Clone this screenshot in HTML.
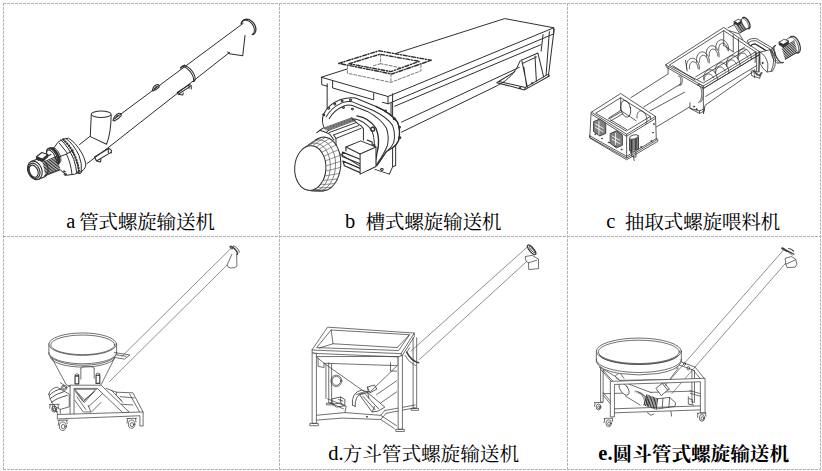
<!DOCTYPE html>
<html lang="zh"><head><meta charset="utf-8"><title>螺旋输送机</title>
<style>
html,body{margin:0;padding:0;background:#fff}
body{width:822px;height:471px;overflow:hidden;font-family:"Liberation Serif",serif}
svg{display:block}
.lt{font-family:"Liberation Serif",serif;font-size:20.5px;fill:#000}
.ltb{font-family:"Liberation Serif",serif;font-size:20.5px;font-weight:bold;fill:#000}
.cj{font-family:"Liberation Serif","Noto Serif CJK SC",serif;font-size:19.7px;fill:#000}
.cjb{font-family:"Liberation Serif","Noto Serif CJK SC",serif;font-size:19.7px;font-weight:bold;fill:#000}
.ln{fill:none;stroke:#333;stroke-width:0.8;stroke-linecap:round;stroke-linejoin:round}
</style></head><body>
<svg width="822" height="471" viewBox="0 0 822 471">
<g stroke="#b2b2b2" stroke-width="1" stroke-dasharray="3 1" fill="none" shape-rendering="crispEdges"><path d="M3.5 3V470"/><path d="M279.5 3V470"/><path d="M567.5 3V470"/><path d="M820.5 3V470"/><path d="M3 3.5H821"/><path d="M3 236.5H821"/><path d="M3 469.5H821"/></g>
<g id="draw_a"><g transform="translate(0 0) scale(1.000000)" fill="none" stroke="#2e2e2e" stroke-width="1.000" stroke-linecap="round" stroke-linejoin="round"><path d="M112.9 120 L243.2 23.3"/><path d="M108.5 147.4 L229.6 52.4"/><path d="M79.5 144.6 L89.6 136.6"/><path d="M87 163.6 L108.5 147.4"/><path d="M94.5 157 L109 148.3 L111.3 150.2 L111.3 153 M96.5 161 L110.5 152.6 M94.5 157 L96.5 161 L100.5 162 L101 159.5 M108.3 149 L108.3 152.5" stroke-width="1.1"/></g><g transform="translate(44 134) scale(0.093385)" fill="none" stroke="#2e2e2e" stroke-width="10.708" stroke-linecap="round" stroke-linejoin="round"><path d="M112 140 L150 88 Q200 45 262 45 Q340 90 405 205 Q455 300 445 350 Q430 385 405 398 L330 430 L240 442 L212 420 Q170 385 140 330 Z" fill="#fff"/><path d="M235 48 Q320 110 375 230 Q410 320 400 398"/><path d="M200 55 Q290 130 340 260 Q370 340 375 405" stroke-width="22" stroke-dasharray="20 9" stroke-linecap="butt"/><path d="M200 55 Q290 130 340 260 Q370 340 375 405" stroke-width="10"/><path d="M180 62 Q265 140 318 270 Q345 350 350 415"/><path d="M150 250 L240 215 L315 175 M240 215 Q285 300 300 432"/><path d="M165 100 L250 205"/><ellipse cx="228" cy="432" rx="12" ry="12"/><ellipse cx="215" cy="402" rx="9" ry="9"/><path d="M360 405 L365 425 L395 420 L405 398"/><ellipse cx="88" cy="245" rx="48" ry="100" transform="rotate(-27 88 245)" fill="#fff"/><path d="M58.4 157.3 L63.9 154.2 L70.2 152.7 L77.2 152.8 L84.7 154.6 L92.5 157.9 L100.6 162.8 L108.7 169.1 L116.7 176.7 L124.5 185.5 L131.9 195.3 L138.8 205.9 L145.0 217.1 L150.4 228.7 L155.0 240.5 L158.5 252.3 L161.0 263.7 L162.5 274.7 L162.8 285.0 L162.0 294.4 L160.1 302.7 L157.2 309.8 L153.2 315.5 L148.3 319.7 L142.5 322.4" stroke-width="22"/><path d="M87.5 144.8 L93.5 144.6 L99.9 145.7 L106.5 148.1 L113.5 151.5 L120.5 156.2 L127.5 161.8 L134.5 168.5 L141.3 176.1 L147.8 184.4 L154.0 193.4 L159.6 202.9 L164.8 212.8 L169.3 222.9 L173.2 233.1 L176.3 243.3 L178.6 253.3 L180.1 263.0 L180.8 272.2 L180.6 280.8 L179.6 288.7 L177.8 295.7 L175.2 301.8 L171.8 306.8 L167.6 310.7"/><ellipse cx="80" cy="250" rx="40" ry="86" transform="rotate(-27 80 250)"/></g><g transform="translate(24 128) scale(0.114650)" fill="none" stroke="#2e2e2e" stroke-width="8.722" stroke-linecap="round" stroke-linejoin="round"><g transform="translate(95 370) scale(1.1) translate(-95 -370)"><path d="M117 292 L225 242 L300 362 L172 412 Z" fill="#fff" stroke="none"/><path d="M117 292 L222 244 M172 412 L292 366"/><path d="M158.0 306.0L268.0 258.0M160.4 316.7L270.7 269.1M162.9 327.3L273.3 280.2M165.3 338.0L276.0 291.3M167.8 348.7L278.7 302.4M170.2 359.3L281.3 313.6M172.7 370.0L284.0 324.7M175.1 380.7L286.7 335.8M177.6 391.3L289.3 346.9M180.0 402.0L292.0 358.0" stroke-width="7.5" stroke="#222"/><path d="M111.3 280.0 L118.2 277.8 L125.4 276.9 L132.9 277.1 L140.6 278.7 L148.3 281.4 L155.8 285.3 L163.1 290.4 L170.0 296.4 L176.4 303.4 L182.2 311.1 L187.3 319.6 L191.6 328.5 L195.1 337.8 L197.6 347.3 L199.1 356.9 L199.7 366.4 L199.2 375.5 L197.8 384.3 L195.4 392.4 L192.0 399.8 L187.8 406.4 L182.8 412.0 L177.0 416.6 L170.7 420.0"/><path d="M65 300 L112 281 L172 420 L125 440 Z" fill="#fff" stroke="none"/><path d="M65 300 L112 281 M125 440 L172 420"/><ellipse cx="95" cy="370" rx="55" ry="76" transform="rotate(-23 95 370)" fill="#fff"/><ellipse cx="89" cy="373" rx="43" ry="63" transform="rotate(-23 89 373)"/><ellipse cx="85" cy="376" rx="33" ry="50" transform="rotate(-23 85 376)"/><path d="M108 262 L108 278 L152 300 L197 262 L197 243 Z" fill="#333"/><path d="M108 262 L150 228 L197 243 L155 280 Z" fill="#fff"/></g></g><g transform="translate(76 92) scale(0.127389)" fill="none" stroke="#2e2e2e" stroke-width="7.850" stroke-linecap="round" stroke-linejoin="round"><path d="M120 175 L112 350 L240 410 Q275 320 276 178" fill="#fff"/><ellipse cx="198" cy="175" rx="78" ry="25" fill="#fff"/><path d="M292 222 Q300 180 335 168 Q360 165 355 185 Q330 215 300 228 Z M310 205 Q318 185 335 182" stroke-width="8"/></g><g transform="translate(140 52) scale(0.127389)" fill="none" stroke="#2e2e2e" stroke-width="7.850" stroke-linecap="round" stroke-linejoin="round"><path d="M330.8 114.6 L334.1 110.7 L338.3 108.1 L343.3 106.7 L349.1 106.5 L355.5 107.7 L362.4 110.1 L369.6 113.7 L377.1 118.4 L384.6 124.1 L392.0 130.8 L399.2 138.3 L406.0 146.4 L412.3 155.0 L417.9 163.8 L422.8 172.8 L426.8 181.8 L429.8 190.5 L431.9 198.8 L432.9 206.5 L432.9 213.5 L431.8 219.6 L429.6 224.7 L426.5 228.7 L422.4 231.6" stroke-width="8"/><path d="M318.8 122.6 L321.8 119.0 L325.6 116.4 L330.1 114.9 L335.3 114.5 L341.0 115.1 L347.2 116.8 L353.7 119.6 L360.5 123.3 L367.4 128.1 L374.3 133.6 L381.2 139.9 L387.7 146.9 L394.0 154.4 L399.8 162.3 L405.1 170.5 L409.7 178.8 L413.6 187.1 L416.8 195.2 L419.1 203.0 L420.5 210.4 L421.0 217.3 L420.6 223.5 L419.4 228.9 L417.2 233.4"/><path d="M320 130 Q330 108 350 102"/><path d="M292 318 L388 255 L402 262 L402 290 M300 332 L392 272 M292 318 L300 332 L335 338 L340 322 M385 262 L385 285" stroke-width="8"/><path d="M97 300 Q105 262 135 255 Q155 258 150 275 Q125 300 100 306 Z M112 290 Q120 270 135 268" stroke-width="8"/></g><g transform="translate(190 8) scale(0.127389)" fill="none" stroke="#2e2e2e" stroke-width="7.850" stroke-linecap="round" stroke-linejoin="round"><path d="M403.6 122.7 L405.9 114.0 L409.6 106.2 L414.7 99.6 L421.0 94.4 L428.3 90.6 L436.4 88.4 L445.2 87.9 L454.4 89.0 L463.8 91.8 L473.0 96.1 L481.9 101.9 L490.2 108.9 L497.7 117.1 L504.2 126.1 L509.5 135.7 L513.5 145.8 L516.1 155.9 L517.1 165.9 L516.7 175.5 L514.7 184.4 L511.2 192.3 L506.4 199.2 L500.4 204.7 L493.3 208.8" stroke-width="10"/><path d="M400.3 124.5 L402.9 117.1 L406.7 110.7 L411.6 105.4 L417.5 101.3 L424.2 98.5 L431.6 97.0 L439.5 97.0 L447.7 98.4 L456.1 101.2 L464.3 105.3 L472.2 110.6 L479.6 117.0 L486.3 124.3 L492.2 132.3 L497.2 141.0 L501.0 149.9 L503.6 159.0 L505.0 168.0 L505.1 176.6 L503.8 184.8 L501.4 192.2 L497.7 198.7 L492.9 204.2 L487.1 208.4"/><path d="M296 345 L310 360 L414 374 L432 215"/></g></g>
<g id="draw_b"><g transform="translate(315 15) scale(0.304136)" fill="none" stroke="#2e2e2e" stroke-width="3.288" stroke-linecap="round" stroke-linejoin="round"><path d="M22 205 L240 268 L785 42 L625 12 Z" fill="#fff"/><path d="M22 205 L22 229 L40 234 M240 268 L240 292 L785 62 L785 42 M222 287 L240 292"/><path d="M40 226 L40 234 M58 216 L58 240 L193 279 L193 258"/><path d="M40 234 L40 330 M250 290 L250 420"/><path d="M262 300 L742 98"/><path d="M285 352 L672 172"/><path d="M285 385 L600 232 Q655 205 675 150"/></g><g transform="translate(470 10) scale(0.191205)" fill="none" stroke="#2e2e2e" stroke-width="5.230" stroke-linecap="round" stroke-linejoin="round"><path d="M440 100 L410 345 M382 128 L372 215 M415 112 L398 340"/><path d="M270 260 L300 405 M355 225 L385 350 M340 240 L347 372 M270 262 L355 225 M278 278 L348 245 M282 300 L296 400"/><path d="M140 380 L285 418 L415 345 L410 335 M150 374 L290 405 L405 338 M140 380 L150 374 M285 418 L290 405 M150 374 L235 322"/><ellipse cx="325" cy="383" rx="4" ry="3"/><ellipse cx="262" cy="408" rx="4" ry="3"/></g><g transform="translate(315 40) scale(0.158151)" fill="none" stroke="#2e2e2e" stroke-width="6.323" stroke-linecap="round" stroke-linejoin="round"><path d="M205 165 L205 210 L480 268 L670 195 L670 150 Z" fill="#fff" stroke="none"/><path d="M150 148 L405 68 L735 128 L485 215 Z" stroke-dasharray="24 11 7 11" stroke-width="9" fill="#fff"/><path d="M215 150 L410 90 L660 135 L480 200 Z" stroke-dasharray="24 11 7 11" stroke-width="9"/><path d="M205 165 L205 210 L480 268 L670 195 L670 150 M480 215 L480 268" stroke-dasharray="18 11" stroke-width="5.5" stroke="#666"/><path d="M415 90 L415 150 L540 175 M415 150 L370 162" stroke-dasharray="18 11" stroke-width="5.5" stroke="#666"/></g><g transform="translate(310 90) scale(0.191205)" fill="none" stroke="#2e2e2e" stroke-width="5.230" stroke-linecap="round" stroke-linejoin="round"><path d="M432 20 L432 402 L415 440 L340 415 M432 402 L448 395 L448 150"/><ellipse cx="376" cy="416" rx="7" ry="5"/><path d="M75 200 Q58 165 70 128 Q95 75 160 50 Q205 36 238 42 L345 86 Q425 122 458 168 Q476 215 463 265 Q452 290 432 302 L400 322 L352 392 L300 420 L100 300 Z" fill="#fff"/><path d="M85 140 Q110 92 170 66 Q200 58 222 62 L325 105 Q400 140 432 185 Q448 230 438 275 Q425 305 400 322 L352 392"/><path d="M100 150 Q125 105 180 82 Q205 76 225 82 L300 112 Q370 150 400 200 Q415 245 405 290 Q390 330 345 395"/><path d="M345 86 Q425 122 458 168 Q476 215 463 265 Q452 290 432 302" stroke-width="7"/><path d="M245 135 Q310 145 345 200 Q370 260 350 330 Q345 370 335 392" stroke-width="7"/><path d="M230 150 Q290 160 325 215 Q345 270 330 335"/><ellipse cx="72" cy="130" rx="5" ry="5"/><ellipse cx="98" cy="96" rx="5" ry="5"/><ellipse cx="130" cy="74" rx="5" ry="5"/><ellipse cx="168" cy="58" rx="5" ry="5"/><ellipse cx="212" cy="52" rx="5" ry="5"/><ellipse cx="175" cy="92" rx="5" ry="5"/><ellipse cx="222" cy="100" rx="5" ry="5"/><ellipse cx="335" cy="290" rx="5" ry="5"/><ellipse cx="338" cy="340" rx="5" ry="5"/><ellipse cx="340" cy="380" rx="5" ry="5"/><ellipse cx="395" cy="110" rx="5" ry="5"/><ellipse cx="440" cy="150" rx="5" ry="5"/><ellipse cx="468" cy="195" rx="5" ry="5"/><ellipse cx="470" cy="250" rx="5" ry="5"/><ellipse cx="328" cy="205" rx="10" ry="10" stroke-width="7"/><g transform="translate(-26.16 78.48) scale(0.61120)" stroke-width="8.56"><path d="M100 238 L150 198 L400 108 L480 175 L500 200 L500 330 L330 350 L265 420 L200 300 Z" fill="#fff" stroke="none"/><path d="M152.0 200.0L400.0 110.0M164.0 204.5L407.5 115.5M176.0 209.0L415.0 121.0M188.0 213.5L422.5 126.5M200.0 218.0L430.0 132.0" stroke-width="6" stroke="#222"/><path d="M205 236 L440 150 M245 256 L460 176 M265 286 L478 200" stroke-width="8"/><path d="M400 110 L440 150 L480 178 L500 202 L500 300 M150 200 L128 216 L100 238 M200 218 L182 236 L212 250 L248 300 M245 256 L265 286 L265 420 M128 216 L182 236"/></g><path d="M188 298 L188 318 M170 325 L262 362 M168 348 L262 386 M172 372 L262 410 M180 396 L262 432 M170 325 L168 348 M172 372 L180 396 M300 262 L325 272 L325 300" stroke-width="6"/><path d="M188 298 L265 266 L345 298 L345 400 L262 440 L262 335 Z" fill="#fff"/><path d="M262 335 L345 298"/></g><g transform="translate(288 125) scale(0.148620)" fill="none" stroke="#2e2e2e" stroke-width="6.729" stroke-linecap="round" stroke-linejoin="round"><path d="M95 160 L150 85 L330 150 L340 400 L245 447 L150 440 Z" fill="#fff" stroke="none"/><ellipse cx="235" cy="263" rx="120" ry="182" transform="rotate(3 235 263)" fill="#fff" stroke="none"/><path d="M183.3 102.5 L201.7 90.7 L221.0 83.5 L240.6 81.1 L260.1 83.6 L278.9 90.9 L296.5 102.8 L312.5 118.9 L326.5 138.9 L338.0 162.2 L346.7 188.2 L352.4 216.3 L355.1 245.5 L354.5 275.2 L350.7 304.6 L343.8 332.9 L334.0 359.3 L321.6 383.2 L306.9 403.8 L290.2 420.7 L272.1 433.3 L252.9 441.4 L233.3 444.8 L213.8 443.3 L194.8 436.9"/><path d="M130.2 146.6 L147.3 127.3 L166.2 112.9 L186.5 103.8 L207.4 100.2 L228.1 102.3 L248.2 110.0 L266.8 123.2 L283.3 141.2 L297.3 163.6 L308.3 189.6 L315.8 218.4 L319.7 248.9 L319.8 280.3 L316.1 311.4 L308.8 341.2 L298.0 368.8 L284.2 393.3 L267.7 413.7 L249.2 429.6 L229.3 440.2 L208.5 445.4 L187.6 444.9 L167.3 438.7 L148.3 427.0" stroke-width="4.5" stroke="#4a4a4a"/><path d="M74.7 222.3 L86.9 191.2 L103.3 164.5 L123.1 143.5 L145.4 129.0 L169.1 121.9 L193.0 122.3 L216.1 130.4 L237.3 145.8 L255.5 167.6 L269.8 194.9 L279.7 226.4 L284.7 260.6 L284.4 295.8 L278.9 330.4 L268.5 362.8 L253.7 391.4 L235.1 414.9 L213.7 432.1 L190.5 442.2 L166.5 444.8 L142.9 439.7 L120.9 427.2 L101.4 407.8 L85.4 382.6" stroke-width="4.5" stroke="#4a4a4a"/><path d="M96 164 L119 147 L147 128 L174 111M118 149 L142 131 L170 111 L199 92M141 141 L166 122 L196 101 L226 83M165 141 L191 122 L222 101 L253 82M188 148 L215 130 L247 110 L279 91M209 163 L237 146 L270 126 L303 109M227 184 L256 169 L290 151 L324 134M241 211 L271 197 L305 181 L340 167M251 241 L281 230 L315 217 L350 204M255 275 L285 266 L320 255 L355 244M254 309 L284 303 L319 294 L354 285M247 342 L277 338 L311 332 L346 325M236 372 L265 371 L299 367 L333 362M220 398 L248 400 L281 397 L315 394M201 419 L228 422 L260 421 L292 419M178 433 L205 437 L236 437 L267 436M155 439 L180 444 L210 445 L240 444M131 438 L155 443 L184 444 L213 443M108 430 L131 434 L159 434 L187 433" stroke-width="4" stroke="#4a4a4a"/><ellipse cx="150" cy="290" rx="105" ry="150" transform="rotate(3 150 290)" fill="#fff"/></g></g>
<g id="draw_c"><g transform="translate(0 0) scale(1.000000)" fill="none" stroke="#2e2e2e" stroke-width="0.780" stroke-linecap="round" stroke-linejoin="round"><path d="M631 97.6 L668.9 73.4"/><path d="M643.7 107 L681 83.6"/><path d="M650.1 110.8 L699.4 84.2"/><path d="M656.5 126.9 L698.8 101.4"/></g><g transform="translate(660 20) scale(0.212355)" fill="none" stroke="#2e2e2e" stroke-width="3.673" stroke-linecap="round" stroke-linejoin="round"><path d="M38 222 L205 322 L209 428 L186 440 L141 416 L141 389 L100 300 L38 252 Z" fill="#fff" stroke="none"/><path d="M38 222 L38 252 M209 322 L209 428 L186 440 L141 416 L141 389 M141 416 L186 428 L186 440 M186 428 L209 418"/><ellipse cx="160" cy="408" rx="3" ry="3"/><ellipse cx="172" cy="420" rx="3" ry="3"/><path d="M183.8 301.0 L186.4 301.5 L188.9 302.6 L191.4 304.3 L193.7 306.6 L195.9 309.4 L197.9 312.7 L199.7 316.4 L201.3 320.6 L202.6 325.1 L203.7 329.9 L204.4 334.9 L204.9 340.0 L205.0 345.2 L204.8 350.4 L204.4 355.6 L203.6 360.5 L202.5 365.3 L201.2 369.8 L199.6 373.9 L197.8 377.6 L195.7 380.9 L193.5 383.6 L191.2 385.9 L188.7 387.5"/><path d="M176.7 306.0 L179.2 306.5 L181.6 307.5 L184.0 309.2 L186.2 311.3 L188.3 314.0 L190.3 317.2 L192.0 320.7 L193.5 324.7 L194.7 329.0 L195.7 333.6 L196.4 338.3 L196.9 343.2 L197.0 348.2 L196.8 353.2 L196.4 358.1 L195.6 362.8 L194.6 367.4 L193.4 371.6 L191.8 375.6 L190.1 379.1 L188.2 382.2 L186.0 384.9 L183.8 387.0 L181.4 388.6"/><path d="M95.0 262.0 L96.2 262.2 L97.4 262.7 L98.6 263.6 L99.7 264.8 L100.8 266.3 L101.8 268.0 L102.6 270.1 L103.4 272.4 L104.0 274.8 L104.4 277.4 L104.8 280.2 L105.0 283.0 L105.0 285.8 L104.9 288.7 L104.6 291.4 L104.2 294.1 L103.6 296.6 L102.9 299.0 L102.1 301.1 L101.2 303.0 L100.2 304.7 L99.1 306.0 L97.9 307.0 L96.7 307.7"/><path d="M88.0 264.0 L89.2 264.2 L90.4 264.7 L91.6 265.6 L92.7 266.8 L93.8 268.3 L94.8 270.0 L95.6 272.1 L96.4 274.4 L97.0 276.8 L97.4 279.4 L97.8 282.2 L98.0 285.0 L98.0 287.8 L97.9 290.7 L97.6 293.4 L97.2 296.1 L96.6 298.6 L95.9 301.0 L95.1 303.1 L94.2 305.0 L93.2 306.7 L92.1 308.0 L90.9 309.0 L89.7 309.7"/><path d="M205 322 L470 162 L465 245 L440 242 L212 402 L205 440 Z" fill="#fff"/><path d="M215 360 L455 215"/><path d="M430 240 L432 262 L470 275 L472 250 M445 262 L445 272"/><path d="M28 210 L300 35 L470 150 L205 310 Z" fill="#fff"/><path d="M45 212 L300 50 L450 150 L205 296 Z"/><path d="M28 210 L30 222 L205 322 L205 310 M205 322 L470 162 L470 150"/><path d="M300 50 L300 120 M450 150 L448 200 M300 120 L345 150 M345 70 L345 150 M370 88 L370 165"/><path d="M168 268 L398 128 M175 280 L405 140"/><path d="M125.9 229.8 L125.0 223.6 L124.7 217.4 L125.1 211.3 L126.2 205.4 L127.9 199.9 L130.2 194.8 L133.1 190.4 L136.4 186.7 L140.2 183.8 L144.3 181.7 L148.6 180.5 L153.1 180.2 L157.6 180.9 L162.0 182.4 L166.3 184.9 L170.4 188.2 L174.1 192.2 L177.4 196.9 L180.1 202.1 L182.4 207.8 L184.0 213.8 L185.0 219.9 L185.3 226.2 L184.9 232.3"/><path d="M139.2 228.8 L138.8 224.7 L138.8 220.6 L139.2 216.6 L140.0 212.8 L141.1 209.2 L142.5 206.0 L144.3 203.1 L146.4 200.7 L148.7 198.8 L151.2 197.3 L153.8 196.5 L156.6 196.2 L159.4 196.4 L162.1 197.2 L164.9 198.6 L167.5 200.5 L169.9 202.9 L172.2 205.7 L174.2 208.9 L175.9 212.4 L177.2 216.2 L178.3 220.2 L178.9 224.3 L179.2 228.4"/><path d="M172.9 199.8 L172.0 193.6 L171.7 187.4 L172.1 181.3 L173.2 175.4 L174.9 169.9 L177.2 164.8 L180.1 160.4 L183.4 156.7 L187.2 153.8 L191.3 151.7 L195.6 150.5 L200.1 150.2 L204.6 150.9 L209.0 152.4 L213.3 154.9 L217.4 158.2 L221.1 162.2 L224.4 166.9 L227.1 172.1 L229.4 177.8 L231.0 183.8 L232.0 189.9 L232.3 196.2 L231.9 202.3"/><path d="M186.2 198.8 L185.8 194.7 L185.8 190.6 L186.2 186.6 L187.0 182.8 L188.1 179.2 L189.5 176.0 L191.3 173.1 L193.4 170.7 L195.7 168.8 L198.2 167.3 L200.8 166.5 L203.6 166.2 L206.4 166.4 L209.1 167.2 L211.9 168.6 L214.5 170.5 L216.9 172.9 L219.2 175.7 L221.2 178.9 L222.9 182.4 L224.2 186.2 L225.3 190.2 L225.9 194.3 L226.2 198.4"/><path d="M218.9 170.8 L218.0 164.6 L217.7 158.4 L218.1 152.3 L219.2 146.4 L220.9 140.9 L223.2 135.8 L226.1 131.4 L229.4 127.7 L233.2 124.8 L237.3 122.7 L241.6 121.5 L246.1 121.2 L250.6 121.9 L255.0 123.4 L259.3 125.9 L263.4 129.2 L267.1 133.2 L270.4 137.9 L273.1 143.1 L275.4 148.8 L277.0 154.8 L278.0 160.9 L278.3 167.2 L277.9 173.3"/><path d="M232.2 169.8 L231.8 165.7 L231.8 161.6 L232.2 157.6 L233.0 153.8 L234.1 150.2 L235.5 147.0 L237.3 144.1 L239.4 141.7 L241.7 139.8 L244.2 138.3 L246.8 137.5 L249.6 137.2 L252.4 137.4 L255.1 138.2 L257.9 139.6 L260.5 141.5 L262.9 143.9 L265.2 146.7 L267.2 149.9 L268.9 153.4 L270.2 157.2 L271.3 161.2 L271.9 165.3 L272.2 169.4"/><path d="M263.9 142.8 L263.0 136.6 L262.7 130.4 L263.1 124.3 L264.2 118.4 L265.9 112.9 L268.2 107.8 L271.1 103.4 L274.4 99.7 L278.2 96.8 L282.3 94.7 L286.6 93.5 L291.1 93.2 L295.6 93.9 L300.0 95.4 L304.3 97.9 L308.4 101.2 L312.1 105.2 L315.4 109.9 L318.1 115.1 L320.4 120.8 L322.0 126.8 L323.0 132.9 L323.3 139.2 L322.9 145.3"/><path d="M277.2 141.8 L276.8 137.7 L276.8 133.6 L277.2 129.6 L278.0 125.8 L279.1 122.2 L280.5 119.0 L282.3 116.1 L284.4 113.7 L286.7 111.8 L289.2 110.3 L291.8 109.5 L294.6 109.2 L297.4 109.4 L300.1 110.2 L302.9 111.6 L305.5 113.5 L307.9 115.9 L310.2 118.7 L312.2 121.9 L313.9 125.4 L315.2 129.2 L316.3 133.2 L316.9 137.3 L317.2 141.4"/><path d="M205.9 278.6 L205.7 272.8 L206.2 267.0 L207.2 261.4 L208.7 256.1 L210.8 251.2 L213.4 246.8 L216.4 243.0 L219.8 239.8 L223.6 237.2 L227.6 235.5 L231.8 234.4 L236.1 234.2 L240.4 234.8 L244.7 236.1 L248.9 238.2 L252.9 241.1 L256.6 244.5 L259.9 248.6 L262.9 253.3 L265.4 258.3 L267.5 263.8 L269.0 269.5 L269.9 275.3 L270.3 281.2"/><path d="M207.8 285.4 L207.9 281.8 L208.2 278.2 L208.9 274.7 L209.8 271.4 L211.0 268.3 L212.5 265.4 L214.1 262.8 L216.0 260.5 L218.1 258.5 L220.3 256.9 L222.7 255.6 L225.2 254.8 L227.8 254.3 L230.4 254.2 L233.1 254.5 L235.7 255.2 L238.3 256.3 L240.8 257.8 L243.2 259.7 L245.5 261.8 L247.6 264.3 L249.5 267.1 L251.2 270.1 L252.7 273.3"/><path d="M259.9 245.6 L259.7 239.8 L260.2 234.0 L261.2 228.4 L262.7 223.1 L264.8 218.2 L267.4 213.8 L270.4 210.0 L273.8 206.8 L277.6 204.2 L281.6 202.5 L285.8 201.4 L290.1 201.2 L294.4 201.8 L298.7 203.1 L302.9 205.2 L306.9 208.1 L310.6 211.5 L313.9 215.6 L316.9 220.3 L319.4 225.3 L321.5 230.8 L323.0 236.5 L323.9 242.3 L324.3 248.2"/><path d="M261.8 252.4 L261.9 248.8 L262.2 245.2 L262.9 241.7 L263.8 238.4 L265.0 235.3 L266.5 232.4 L268.1 229.8 L270.0 227.5 L272.1 225.5 L274.3 223.9 L276.7 222.6 L279.2 221.8 L281.8 221.3 L284.4 221.2 L287.1 221.5 L289.7 222.2 L292.3 223.3 L294.8 224.8 L297.2 226.7 L299.5 228.8 L301.6 231.3 L303.5 234.1 L305.2 237.1 L306.7 240.3"/><path d="M312.9 212.6 L312.7 206.8 L313.2 201.0 L314.2 195.4 L315.7 190.1 L317.8 185.2 L320.4 180.8 L323.4 177.0 L326.8 173.8 L330.6 171.2 L334.6 169.5 L338.8 168.4 L343.1 168.2 L347.4 168.8 L351.7 170.1 L355.9 172.2 L359.9 175.1 L363.6 178.5 L366.9 182.6 L369.9 187.3 L372.4 192.3 L374.5 197.8 L376.0 203.5 L376.9 209.3 L377.3 215.2"/><path d="M314.8 219.4 L314.9 215.8 L315.2 212.2 L315.9 208.7 L316.8 205.4 L318.0 202.3 L319.5 199.4 L321.1 196.8 L323.0 194.5 L325.1 192.5 L327.3 190.9 L329.7 189.6 L332.2 188.8 L334.8 188.3 L337.4 188.2 L340.1 188.5 L342.7 189.2 L345.3 190.3 L347.8 191.8 L350.2 193.7 L352.5 195.8 L354.6 198.3 L356.5 201.1 L358.2 204.1 L359.7 207.3"/><path d="M365.9 180.6 L365.7 174.8 L366.2 169.0 L367.2 163.4 L368.7 158.1 L370.8 153.2 L373.4 148.8 L376.4 145.0 L379.8 141.8 L383.6 139.2 L387.6 137.5 L391.8 136.4 L396.1 136.2 L400.4 136.8 L404.7 138.1 L408.9 140.2 L412.9 143.1 L416.6 146.5 L419.9 150.6 L422.9 155.3 L425.4 160.3 L427.5 165.8 L429.0 171.5 L429.9 177.3 L430.3 183.2"/><path d="M367.8 187.4 L367.9 183.8 L368.2 180.2 L368.9 176.7 L369.8 173.4 L371.0 170.3 L372.5 167.4 L374.1 164.8 L376.0 162.5 L378.1 160.5 L380.3 158.9 L382.7 157.6 L385.2 156.8 L387.8 156.3 L390.4 156.2 L393.1 156.5 L395.7 157.2 L398.3 158.3 L400.8 159.8 L403.2 161.7 L405.5 163.8 L407.6 166.3 L409.5 169.1 L411.2 172.1 L412.7 175.3"/><path d="M60 215 L165 282 M120 190 L128 240"/></g><g transform="translate(725 10) scale(0.148515)" fill="none" stroke="#2e2e2e" stroke-width="5.252" stroke-linecap="round" stroke-linejoin="round"><path d="M60 92 L118 60 L160 120 L100 155 Z" fill="#fff"/><path d="M80.0 108.0L135.0 80.0M84.2 115.0L138.3 87.0M88.3 122.0L141.7 94.0M92.5 129.0L145.0 101.0M96.7 136.0L148.3 108.0M100.8 143.0L151.7 115.0M105.0 150.0L155.0 122.0" stroke-width="6" stroke="#222"/><ellipse cx="142" cy="88" rx="20" ry="42" transform="rotate(-28 142 88)" fill="#fff" stroke="none"/><path d="M119.5 53.1 L121.8 51.2 L124.5 50.1 L127.5 49.7 L130.9 50.2 L134.5 51.5 L138.2 53.6 L142.1 56.3 L145.9 59.8 L149.7 63.8 L153.3 68.4 L156.6 73.3 L159.7 78.6 L162.3 84.1 L164.6 89.6 L166.3 95.2 L167.6 100.5 L168.3 105.6 L168.5 110.4 L168.1 114.6 L167.1 118.3 L165.6 121.4 L163.6 123.7 L161.2 125.3 L158.4 126.2" stroke-width="9"/><path d="M113.7 60.4 L115.7 58.7 L118.1 57.7 L120.9 57.4 L123.9 57.8 L127.2 59.0 L130.5 60.9 L134.0 63.4 L137.5 66.5 L140.9 70.2 L144.1 74.3 L147.1 78.8 L149.9 83.5 L152.3 88.5 L154.3 93.5 L155.9 98.5 L157.1 103.4 L157.7 108.0 L157.9 112.3 L157.5 116.1 L156.7 119.5 L155.3 122.2 L153.6 124.3 L151.4 125.8 L148.8 126.5"/><path d="M62 78 L88 62 L112 72 L88 90 Z" fill="#fff"/><path d="M62 78 L62 92 L88 104 L112 86 L112 72 L88 90 Z" fill="#333"/><path d="M20 120 L60 100 M30 140 L95 160 L120 200"/><path d="M200 400 L205 430 L240 445 L245 420 M215 425 L215 440"/></g><g transform="translate(745 25) scale(0.116861)" fill="none" stroke="#2e2e2e" stroke-width="6.675" stroke-linecap="round" stroke-linejoin="round"><path d="M20 135 Q50 108 100 118 L232 195 Q262 225 265 262 L215 270 L195 228 L92 164 Q65 158 48 178 Z" fill="#fff"/><path d="M30 150 Q55 128 95 135 L218 208 Q240 228 245 262"/><path d="M48 178 Q65 158 92 164 L195 228 Q215 245 215 268" stroke-width="10"/><path d="M130 232 L212 212 Q250 235 262 300 Q262 360 235 395 L190 402 Q148 380 130 330 Z" fill="#fff"/><path d="M130 232 Q180 262 195 330 Q198 370 190 402 M212 212 Q235 240 245 300 Q245 350 225 392"/><ellipse cx="150" cy="325" rx="5" ry="6" fill="#333"/><path d="M120 225 L120 400 M100 232 L100 395 M60 385 L120 430 L150 410 M75 392 L80 420"/><ellipse cx="302" cy="245" rx="30" ry="80" transform="rotate(-25 302 245)" fill="#fff" stroke="none"/><path d="M328.0 319.2 L324.6 322.1 L320.4 323.5 L315.6 323.3 L310.3 321.6 L304.5 318.4 L298.4 313.7 L292.2 307.7 L285.9 300.4 L279.6 292.1 L273.6 282.9 L268.0 273.1 L262.8 262.7 L258.2 252.0 L254.3 241.4 L251.1 230.8 L248.7 220.8 L247.2 211.3 L246.6 202.6 L247.0 194.9 L248.2 188.4 L250.3 183.2 L253.3 179.5 L257.0 177.2 L261.4 176.4" stroke-width="10"/><path d="M307.2 322.0 L304.0 324.7 L300.1 326.0 L295.6 325.8 L290.7 324.3 L285.3 321.3 L279.6 317.0 L273.8 311.4 L268.0 304.7 L262.2 297.1 L256.7 288.6 L251.4 279.4 L246.6 269.8 L242.4 260.0 L238.7 250.1 L235.8 240.4 L233.6 231.0 L232.3 222.3 L231.7 214.2 L232.1 207.1 L233.2 201.1 L235.2 196.3 L238.0 192.8 L241.5 190.6 L245.6 189.9"/><path d="M286.7 326.6 L283.4 327.5 L279.7 327.4 L275.5 326.1 L271.1 323.9 L266.5 320.6 L261.7 316.3 L256.8 311.2 L252.0 305.3 L247.2 298.7 L242.7 291.6 L238.4 283.9 L234.4 276.0 L230.9 267.8 L227.8 259.7 L225.2 251.6 L223.2 243.7 L221.8 236.2 L221.0 229.2 L220.9 222.8 L221.3 217.1 L222.4 212.3 L224.1 208.3 L226.4 205.3 L229.3 203.4"/><path d="M300 160 L392 98 L455 225 L345 292 Z" fill="#fff" stroke="none"/><path d="M298 165 L392 98 M345 292 L440 238"/><path d="M318.0 198.0L420.0 135.0M321.4 209.8L423.2 147.1M324.8 221.5L426.5 159.2M328.1 233.2L429.8 171.4M331.5 245.0L433.0 183.5M334.9 256.8L436.2 195.6M338.2 268.5L439.5 207.8M341.6 280.2L442.8 219.9M345.0 292.0L446.0 232.0" stroke-width="8" stroke="#222"/><path d="M393.8 101.1 L398.5 98.0 L403.8 96.4 L409.6 96.3 L415.8 97.7 L422.3 100.6 L428.8 104.9 L435.4 110.5 L441.8 117.4 L447.9 125.3 L453.6 134.2 L458.7 143.7 L463.2 153.8 L467.0 164.1 L469.9 174.6 L472.0 184.9 L473.1 194.8 L473.2 204.2 L472.5 212.8 L470.7 220.5 L468.1 227.1 L464.6 232.4 L460.4 236.3 L455.4 238.9 L449.9 239.9" stroke-width="10"/><path d="M383.6 110.6 L388.1 107.7 L393.1 106.1 L398.6 106.0 L404.5 107.4 L410.6 110.1 L416.8 114.2 L423.0 119.5 L429.1 126.0 L434.9 133.6 L440.2 141.9 L445.1 151.0 L449.4 160.5 L452.9 170.3 L455.7 180.2 L457.7 190.0 L458.7 199.4 L458.9 208.3 L458.1 216.5 L456.5 223.7 L454.0 230.0 L450.7 235.0 L446.7 238.7 L442.0 241.1 L436.8 242.1"/><path d="M292 148 L292 170 L330 190 L372 160 L372 138 Z" fill="#333"/><path d="M292 148 L335 122 L372 138 L330 165 Z" fill="#fff"/></g><g transform="translate(585 85) scale(0.169851)" fill="none" stroke="#2e2e2e" stroke-width="4.592" stroke-linecap="round" stroke-linejoin="round"><path d="M38 160 L210 50 L415 185 L420 325 L245 430 L30 310 Z" fill="#fff"/><path d="M38 160 L245 290 L415 185 M65 165 L210 75 L385 185 L245 270 Z M245 290 L245 430"/><path d="M38 172 L245 302 L415 197 M28 298 L28 312 L245 440 L428 332 L428 318 M30 300 L245 420 L420 315"/><path d="M210 75 L210 150 M210 150 L140 195 M210 150 L300 210 M150 205 L245 262 M385 185 L385 200"/><ellipse cx="240" cy="140" rx="28" ry="50" transform="rotate(-12 240 140)"/><path d="M306.4 194.9 L306.0 187.4 L306.4 180.2 L307.7 173.4 L309.6 167.3 L312.3 162.0 L315.7 157.7 L319.6 154.4 L323.9 152.4 L328.5 151.6 L333.3 152.1 L338.1 153.9 L342.9 156.8 L347.4 160.9 L351.6 165.9 L355.3 171.9 L358.5 178.5 L361.0 185.7 L362.8 193.1 L363.8 200.7 L364.0 208.2 L363.4 215.4 L362.0 222.0 L359.8 228.0 L357.0 233.1"/><path d="M140 200 L215 158 M150 212 L222 170"/><path d="M52 215 L87 200 L122 225 L122 285 L87 300 L52 275 Z" fill="#808080" stroke-width="5"/><path d="M62 230 L107 255 M62 250 L107 275 M82 215 L82 290" stroke="#fff" stroke-width="5"/><path d="M150 285 L185 270 L220 295 L220 355 L185 370 L150 345 Z" fill="#808080" stroke-width="5"/><path d="M160 300 L205 325 M160 320 L205 345 M180 285 L180 360" stroke="#fff" stroke-width="5"/><path d="M262 318 L262 385 Q290 400 315 375 L315 308 Q290 295 262 318 Z" fill="#fff"/><path d="M266.0 322.0L266.0 388.0M273.7 320.3L273.7 386.3M281.3 318.7L281.3 384.7M289.0 317.0L289.0 383.0M296.7 315.3L296.7 381.3M304.3 313.7L304.3 379.7M312.0 312.0L312.0 378.0" stroke-width="5.5" stroke="#222"/><ellipse cx="288" cy="306" rx="27" ry="12" transform="rotate(-15 288 306)" fill="#fff"/><path d="M275 392 L275 420 L300 425 L300 395 M285 420 L290 445"/><ellipse cx="60" cy="290" rx="3" ry="3"/><ellipse cx="100" cy="315" rx="3" ry="3"/><ellipse cx="140" cy="338" rx="3" ry="3"/><ellipse cx="180" cy="360" rx="3" ry="3"/><ellipse cx="215" cy="380" rx="3" ry="3"/><ellipse cx="270" cy="395" rx="3" ry="3"/><ellipse cx="330" cy="365" rx="3" ry="3"/><ellipse cx="390" cy="330" rx="3" ry="3"/><ellipse cx="405" cy="230" rx="3" ry="3"/><ellipse cx="400" cy="280" rx="3" ry="3"/></g></g>
<g id="draw_d"><g transform="translate(0 0) scale(1.000000)" fill="none" stroke="#4a4a4a" stroke-width="0.620" stroke-linecap="round" stroke-linejoin="round"><path d="M121.5 356.8 L231.3 248.1"/><path d="M109.5 381.5 L227.1 265"/></g><g transform="translate(200 240) scale(0.106195)" fill="none" stroke="#404040" stroke-width="7.062" stroke-linecap="round" stroke-linejoin="round"><path d="M300 135 L255 235 Q258 262 290 264 Q335 266 348 245 L345 135"/><path d="M283.7 65.3 L284.9 63.2 L286.8 61.9 L289.4 61.3 L292.6 61.4 L296.3 62.4 L300.4 64.1 L305.0 66.5 L309.8 69.6 L314.8 73.3 L319.8 77.5 L324.8 82.1 L329.7 87.1 L334.3 92.3 L338.6 97.6 L342.4 102.9 L345.8 108.2 L348.5 113.2 L350.6 117.9 L352.0 122.1 L352.7 125.9 L352.6 129.1 L351.9 131.6 L350.4 133.4 L348.2 134.5" stroke-width="14"/><path d="M312.7 58.7 L314.3 57.7 L316.3 57.3 L318.7 57.3 L321.5 57.9 L324.6 59.0 L328.0 60.6 L331.5 62.6 L335.2 65.1 L339.0 68.0 L342.8 71.2 L346.6 74.7 L350.2 78.5 L353.7 82.4 L357.0 86.3 L359.9 90.4 L362.5 94.4 L364.7 98.2 L366.5 101.9 L367.9 105.4 L368.7 108.6 L369.1 111.4 L369.0 113.8 L368.4 115.8 L367.3 117.3" stroke-width="9"/><ellipse cx="297" cy="72" rx="9" ry="14" transform="rotate(-43 297 72)" stroke-width="9"/></g><g transform="translate(40 325) scale(0.233546)" fill="none" stroke="#404040" stroke-width="3.211" stroke-linecap="round" stroke-linejoin="round"><path d="M50 140 L112 255 L150 275 L190 332 L240 275 L262 255 L320 140 Z" fill="#fff"/><path d="M150 275 L240 275 M160 290 L190 320 L230 288"/><path d="M175 185 L175 232 M232 185 L232 228"/><path d="M175.0 185.0 L175.2 184.0 L176.0 182.9 L177.1 181.9 L178.8 181.0 L180.8 180.1 L183.2 179.3 L186.0 178.7 L189.0 178.1 L192.3 177.6 L195.8 177.3 L199.3 177.1 L203.0 177.0 L206.7 177.1 L210.2 177.3 L213.7 177.6 L217.0 178.1 L220.0 178.7 L222.8 179.3 L225.2 180.1 L227.2 181.0 L228.9 181.9 L230.0 182.9 L230.8 184.0 L231.0 185.0"/><path d="M150 218 L166 218 L166 252 L150 252 Z M240 215 L256 215 L256 250 L240 250 Z" stroke-width="5"/><ellipse cx="158" cy="214" rx="8" ry="5"/><ellipse cx="248" cy="211" rx="8" ry="5"/><path d="M38 82 L38 125 Q45 150 110 165 Q183 180 260 165 Q320 150 328 125 L328 82 Z" fill="#fff"/><path d="M320.5 138.9 L317.9 144.4 L313.4 149.8 L306.8 154.9 L298.3 159.7 L288.1 164.2 L276.2 168.2 L263.0 171.7 L248.5 174.6 L233.0 176.9 L216.8 178.6 L200.0 179.7 L183.0 180.0 L166.0 179.7 L149.2 178.6 L133.0 176.9 L117.5 174.6 L103.0 171.7 L89.8 168.2 L77.9 164.2 L67.7 159.7 L59.2 154.9 L52.6 149.8 L48.1 144.4 L45.5 138.9"/><path d="M328.0 118.0 L326.8 124.3 L323.1 130.4 L317.0 136.4 L308.6 142.0 L298.0 147.2 L285.5 151.9 L271.3 156.1 L255.5 159.6 L238.5 162.3 L220.5 164.4 L201.9 165.6 L183.0 166.0 L164.1 165.6 L145.5 164.4 L127.5 162.3 L110.5 159.6 L94.7 156.1 L80.5 151.9 L68.0 147.2 L57.4 142.0 L49.0 136.4 L42.9 130.4 L39.2 124.3 L38.0 118.0"/><ellipse cx="183" cy="82" rx="145" ry="48" fill="#fff"/><ellipse cx="183" cy="85" rx="137" ry="42"/><path d="M318 118 L385 128 L362 146 L325 140 M330 128 L368 134"/></g><g transform="translate(45 375) scale(0.127389)" fill="none" stroke="#404040" stroke-width="5.888" stroke-linecap="round" stroke-linejoin="round"><path d="M480 105 L560 135 L690 140 L770 290 M665 150 L745 295 M590 170 L700 180 M560 135 L560 160 L610 215 M520 120 L600 200"/><path d="M100 310 L70 240 L95 235 M600 230 L690 235"/><path d="M30 150 Q40 105 95 95 L190 150 L190 250 L120 270 Q45 240 30 150 Z" fill="#fff"/><path d="M40 185 Q80 150 150 130 M50 215 Q95 180 175 160 M35 160 Q70 120 125 110" stroke-width="7"/><ellipse cx="150" cy="100" rx="22" ry="20" fill="#fff"/><ellipse cx="150" cy="100" rx="12" ry="11"/><path d="M120 60 L150 80 M180 90 L195 80"/><path d="M60 240 L60 275 L100 290 M120 270 L120 300"/><path d="M340 250 L470 130 M365 290 L440 215 M250 170 L320 270 M235 200 L300 290 L360 290 L340 240"/><path d="M235 125 L300 210 L390 125"/><path d="M200 80 L440 80 L660 290 L615 300 L410 105 L228 105 L228 310 L200 310 Z" fill="#fff"/><path d="M100 310 L770 290 L770 400 L745 400 L745 320 L100 345 Z" fill="#fff"/><ellipse cx="140" cy="402" rx="27.200000000000003" ry="34"/><ellipse cx="143" cy="405" rx="14.28" ry="17.0"/><path d="M102 356 L180 354 M110 358 L104 394 M170 356 L174 382"/><ellipse cx="680" cy="386" rx="25.6" ry="32"/><ellipse cx="683" cy="389" rx="13.44" ry="16.0"/><path d="M642 342 L720 340 M650 344 L644 378 M710 342 L714 368"/><ellipse cx="72" cy="268" rx="19.200000000000003" ry="24"/><ellipse cx="75" cy="271" rx="10.08" ry="12.0"/><path d="M34 232 L112 230 M42 234 L36 260 M102 232 L106 258"/></g></g>
<g id="draw_e"><g transform="translate(0 0) scale(1.000000)" fill="none" stroke="#4a4a4a" stroke-width="0.620" stroke-linecap="round" stroke-linejoin="round"><path d="M410.9 351.2 L527.4 246.9"/><path d="M419.6 359.4 L526.3 261.8"/></g><g transform="translate(495 240) scale(0.106195)" fill="none" stroke="#404040" stroke-width="7.062" stroke-linecap="round" stroke-linejoin="round"><path d="M288 155 L350 145 L410 180 L410 270 L318 278 L315 215 L295 200 Z M315 215 L395 190"/><ellipse cx="345" cy="92" rx="20" ry="56" transform="rotate(-40 345 92)" stroke-width="13"/><ellipse cx="348" cy="90" rx="9" ry="40" transform="rotate(-40 348 90)" stroke-width="8"/></g><g transform="translate(305 320) scale(0.237624)" fill="none" stroke="#404040" stroke-width="3.156" stroke-linecap="round" stroke-linejoin="round"><path d="M455 75 L455 372 L470 372 L470 75 M100 180 L100 350 L112 350 L112 185"/><path d="M448 372 L478 372 L478 380 L448 380 Z M92 350 L120 350 L120 357 L92 357 Z"/><path d="M428 135 Q445 170 478 180" stroke-width="6.5"/><path d="M420 148 Q435 178 465 192 M440 118 Q432 128 428 135"/></g><g transform="translate(320 365) scale(0.137931)" fill="none" stroke="#404040" stroke-width="5.438" stroke-linecap="round" stroke-linejoin="round"><path d="M-30 365 L180 345 L440 365 L555 440 M-30 400 L160 385 L440 395 L540 462 M55 245 L190 300 L180 345 M75 275 L170 318 M470 330 L690 290 M480 350 L690 310 M440 365 L470 330 M440 395 L480 350"/><ellipse cx="340" cy="375" rx="4" ry="4" fill="#333"/><path d="M440 275 L555 195 M410 215 L555 115"/><path d="M90 245 L150 232 L180 250 L180 295 L120 305 L90 285 Z M150 232 L150 275 L180 295 M150 275 L90 285 M135 250 L165 262" stroke-width="6"/><path d="M235 290 Q225 200 300 182 L345 195 M255 300 Q250 225 305 205 L340 215 M235 290 L255 300 M262 215 Q300 190 345 205" stroke-width="6"/><path d="M290 215 L345 200 L470 305 L420 335 L380 340 Z" fill="#fff" stroke-width="6"/><path d="M310 225 L400 325 M330 215 L425 318 M345 200 L355 240 M380 340 L395 300" stroke-width="6"/><path d="M345 160 L395 145 L412 175 L365 200 Z M345 160 L350 195" fill="#fff" stroke-width="6"/></g><g transform="translate(305 320) scale(0.237624)" fill="none" stroke="#404040" stroke-width="3.156" stroke-linecap="round" stroke-linejoin="round"><path d="M48 155 L80 182 L250 302 L275 302 L392 188 L392 155 Z" fill="none"/><path d="M80 182 L385 192 M55 160 L55 195 L80 200 L80 182 M360 180 L360 215 L385 215 M88 190 L88 330"/><ellipse cx="132" cy="256" rx="23" ry="24"/><ellipse cx="132" cy="256" rx="18" ry="19"/><path d="M30 125 L95 30 L460 55 L405 140 Z" fill="#fff"/><path d="M50 115 L110 42 L440 62 L395 127 Z"/><path d="M110 42 L118 100 L388 116 M118 100 L60 118 M440 62 L388 116"/><path d="M30 125 L30 140 L405 156 L405 140 M405 156 L460 70 L460 55"/><path d="M30 140 L30 435 L48 435 L48 142 Z" fill="#fff"/><path d="M392 156 L392 460 L410 460 L410 150 Z" fill="#fff"/><path d="M22 435 L56 435 L56 445 L22 445 Z M384 460 L418 460 L418 469 L384 469 Z"/></g></g>
<g id="draw_f"><g transform="translate(0 0) scale(1.000000)" fill="none" stroke="#4a4a4a" stroke-width="0.620" stroke-linecap="round" stroke-linejoin="round"><path d="M662 389 L783.3 250.2"/><path d="M672 393.5 L785.6 263.2"/></g><g transform="translate(760 240) scale(0.084890)" fill="none" stroke="#404040" stroke-width="8.835" stroke-linecap="round" stroke-linejoin="round"><path d="M300 215 L370 195 L420 225 L435 285 L415 320 L320 325 L305 285 Z M305 285 L415 235"/><path d="M262 98 L315 128" stroke-width="26"/><path d="M338 100 Q375 105 395 132 M325 128 L400 168" stroke-width="14"/><path d="M315 128 L380 180" stroke-width="8"/></g><g transform="translate(590 330) scale(0.212389)" fill="none" stroke="#404040" stroke-width="3.531" stroke-linecap="round" stroke-linejoin="round"><path d="M50 180 L50 340 L62 340 L62 190 M480 185 L480 340 L492 340 L492 190"/><path d="M62 295 L100 340 M62 308 L100 352 M62 300 L478 288 M470 285 L520 300 M472 298 L520 312"/><path d="M430 150 L495 175 L538 228 M420 165 L485 188 L522 232"/><path d="M50 185 L98 240 M62 190 L110 244"/><ellipse cx="463" cy="180" rx="6" ry="8"/><ellipse cx="445" cy="160" rx="5" ry="6"/></g><g transform="translate(600 370) scale(0.133820)" fill="none" stroke="#404040" stroke-width="5.605" stroke-linecap="round" stroke-linejoin="round"><path d="M150 140 L215 105 L385 170 L345 262 L300 262 L190 195 Z" fill="#fff" stroke="none"/><path d="M215 105 L385 170 M190 195 L300 262"/><ellipse cx="180" cy="142" rx="28" ry="52" transform="rotate(-35 180 142)" fill="#fff"/><path d="M275.0 169.0 L277.9 166.8 L281.3 165.5 L285.3 165.2 L289.8 165.8 L294.7 167.4 L299.9 169.9 L305.2 173.2 L310.7 177.4 L316.1 182.2 L321.4 187.7 L326.5 193.7 L331.3 200.1 L335.7 206.8 L339.6 213.6 L342.9 220.5 L345.6 227.2 L347.6 233.8 L348.9 240.0 L349.5 245.7 L349.3 250.8 L348.3 255.2 L346.7 258.9 L344.3 261.7 L341.3 263.6"/><path d="M290.0 176.0 L292.9 173.8 L296.3 172.5 L300.3 172.2 L304.8 172.8 L309.7 174.4 L314.9 176.9 L320.2 180.2 L325.7 184.4 L331.1 189.2 L336.4 194.7 L341.5 200.7 L346.3 207.1 L350.7 213.8 L354.6 220.6 L357.9 227.5 L360.6 234.2 L362.6 240.8 L363.9 247.0 L364.5 252.7 L364.3 257.8 L363.3 262.2 L361.7 265.9 L359.3 268.7 L356.3 270.6"/><path d="M260.0 162.0 L262.9 159.8 L266.3 158.5 L270.3 158.2 L274.8 158.8 L279.7 160.4 L284.9 162.9 L290.2 166.2 L295.7 170.4 L301.1 175.2 L306.4 180.7 L311.5 186.7 L316.3 193.1 L320.7 199.8 L324.6 206.6 L327.9 213.5 L330.6 220.2 L332.6 226.8 L333.9 233.0 L334.5 238.7 L334.3 243.8 L333.3 248.2 L331.7 251.9 L329.3 254.7 L326.3 256.6"/><path d="M350.0 185.0L330.0 262.0M360.0 188.8L341.2 266.1M370.0 192.5L352.5 270.2M380.0 196.2L363.8 274.4M390.0 200.0L375.0 278.5M400.0 203.8L386.2 282.6M410.0 207.5L397.5 286.8M420.0 211.2L408.8 290.9M430.0 215.0L420.0 295.0" stroke-width="7" stroke="#222"/><path d="M430 215 L520 205 L565 245 L560 272 L430 290 M470 212 L465 285 M520 205 L515 278" stroke-width="6"/><path d="M420 135 L465 100 L505 150 L460 190 Z" fill="#fff" stroke-width="6"/><path d="M465 100 L480 95 L520 145 L505 150" stroke-width="6"/><path d="M355 320 L380 338 L400 330 M530 310 L535 345" stroke-width="6"/><path d="M110 40 L150 70 L200 60 M120 60 L170 90"/><path d="M660 200 L660 255 L700 262 M668 215 L690 220 L690 250" stroke-width="6"/></g><g transform="translate(590 330) scale(0.212389)" fill="none" stroke="#404040" stroke-width="3.531" stroke-linecap="round" stroke-linejoin="round"><path d="M45 175 L125 222 L140 237 L375 233 L415 180 Z" fill="#fff"/><path d="M120 215 L140 200 L160 228"/><path d="M30 100 L30 150 Q45 190 140 205 Q230 218 320 205 Q415 190 430 150 L430 100 Z" fill="#fff"/><path d="M430.0 138.0 L428.3 146.1 L423.2 154.0 L414.8 161.7 L403.2 169.0 L388.7 175.7 L371.4 181.8 L351.8 187.2 L330.0 191.7 L306.5 195.3 L281.8 197.9 L256.1 199.5 L230.0 200.0 L203.9 199.5 L178.2 197.9 L153.5 195.3 L130.0 191.7 L108.2 187.2 L88.6 181.8 L71.3 175.7 L56.8 169.0 L45.2 161.7 L36.8 154.0 L31.7 146.1 L30.0 138.0"/><ellipse cx="230" cy="100" rx="200" ry="62" fill="#fff"/><ellipse cx="230" cy="103" rx="191" ry="55"/><path d="M414.2 119.0 L409.8 124.8 L402.9 130.5 L393.5 135.9 L381.7 140.9 L367.9 145.6 L352.0 149.7 L334.5 153.4 L315.4 156.4 L295.1 158.8 L273.9 160.6 L252.1 161.6 L230.0 162.0 L207.9 161.6 L186.1 160.6 L164.9 158.8 L144.6 156.4 L125.5 153.4 L108.0 149.7 L92.1 145.6 L78.3 140.9 L66.5 135.9 L57.1 130.5 L50.2 124.8 L45.8 119.0"/></g><g transform="translate(600 370) scale(0.133820)" fill="none" stroke="#404040" stroke-width="5.605" stroke-linecap="round" stroke-linejoin="round"><path d="M80 85 L785 62 L785 320 L750 320 L750 88 L108 108 L108 350 L80 350 Z" fill="#fff"/><path d="M108 290 L750 268 M108 320 L750 298"/><ellipse cx="65" cy="398" rx="20.8" ry="26"/><ellipse cx="68" cy="401" rx="10.4" ry="13.0"/><path d="M30 362 L95 360 M35 364 L31 393 M91 362 L95 384"/><ellipse cx="762" cy="358" rx="20.0" ry="25"/><ellipse cx="765" cy="361" rx="10.0" ry="12.5"/><path d="M727 323 L792 321 M732 325 L728 353 M788 323 L792 345"/><ellipse cx="-11" cy="276" rx="17.6" ry="22"/><ellipse cx="-8" cy="279" rx="8.8" ry="11.0"/><path d="M-41 244 L17 242 M-37 246 L-41 271"/></g></g>
<text x="66.3" y="228.3" class="lt">a</text>
<text x="78.9" y="229.2" class="cj" textLength="136.1" lengthAdjust="spacing">管式螺旋输送机</text>
<text x="345" y="228.3" class="lt">b</text>
<text x="365.4" y="229.2" class="cj" textLength="136.1" lengthAdjust="spacing">槽式螺旋输送机</text>
<text x="606.3" y="228.3" class="lt">c</text>
<text x="624.8" y="229.2" class="cj" textLength="155.5" lengthAdjust="spacing">抽取式螺旋喂料机</text>
<text x="328.3" y="460.4" class="lt">d.</text>
<text x="342.6" y="461.4" class="cj" textLength="176.5" lengthAdjust="spacing">方斗管式螺旋输送机</text>
<text x="598.3" y="460.4" class="ltb">e.</text>
<text x="612.6" y="461.4" class="cjb" textLength="176.5" lengthAdjust="spacing">圆斗管式螺旋输送机</text>
</svg>
</body></html>
